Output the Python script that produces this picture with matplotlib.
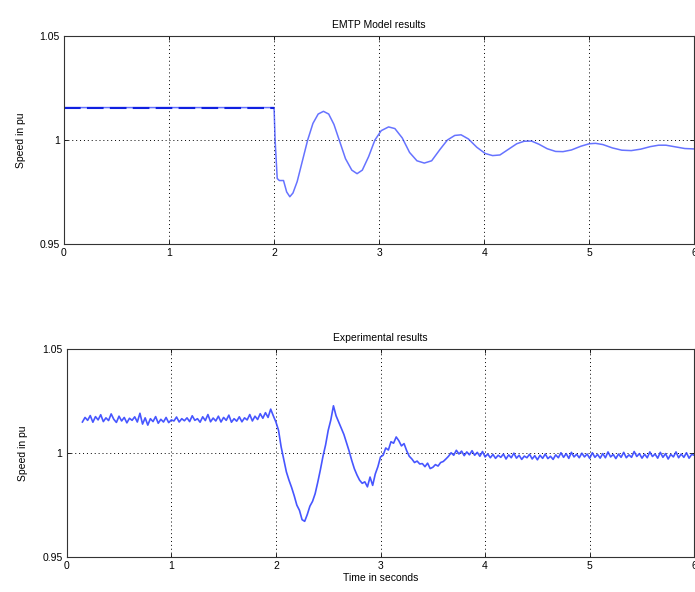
import numpy as np
import matplotlib
matplotlib.use("Agg")
import matplotlib.pyplot as plt

plt.rcParams['font.family'] = ['Liberation Sans', 'DejaVu Sans']

# ---- data: EMTP model results ----
model_t = [0.0, 2.0, 2.01, 2.03, 2.05, 2.09, 2.12, 2.15, 2.18, 2.22, 2.27, 2.32, 2.37,
           2.42, 2.47, 2.52, 2.57, 2.62, 2.68, 2.74, 2.79, 2.84, 2.90, 2.96, 3.02,
           3.09, 3.15, 3.22, 3.29, 3.36, 3.43, 3.50, 3.58, 3.65, 3.72, 3.78, 3.85,
           3.93, 4.01, 4.08, 4.15, 4.23, 4.31, 4.38, 4.45, 4.52, 4.60, 4.68, 4.75,
           4.83, 4.92, 5.00, 5.06, 5.13, 5.22, 5.31, 5.40, 5.49, 5.58, 5.66, 5.73,
           5.82, 5.91, 6.0]
model_v = [1.0156, 1.0156, 1.0000, 0.9815, 0.9805, 0.9805, 0.9750, 0.9727, 0.9745,
           0.9800, 0.9900, 1.0000, 1.0080, 1.0125, 1.0138, 1.0125, 1.0075, 1.0000,
           0.9910, 0.9855, 0.9838, 0.9855, 0.9920, 1.0000, 1.0045, 1.0063, 1.0055,
           1.0010, 0.9940, 0.9900, 0.9889, 0.9900, 0.9955, 1.0000, 1.0022, 1.0025,
           1.0005, 0.9965, 0.9935, 0.9925, 0.9928, 0.9955, 0.9982, 0.9994, 0.9995,
           0.9980, 0.9958, 0.9945, 0.9944, 0.9952, 0.9970, 0.9982, 0.9984, 0.9978,
           0.9962, 0.9951, 0.9949, 0.9956, 0.9968, 0.9975, 0.9975, 0.9967, 0.9959,
           0.9957]

# ---- data: experimental results (sampled every 0.025 s from 0.15 s to 6.0 s) ----
exp_t_start = 0.15
exp_t_end = 6.0
exp_v = [
    1.0150, 1.0172, 1.0158, 1.0181, 1.0149, 1.0176, 1.0160, 1.0185, 1.0152, 1.0170,
    1.0157, 1.0189, 1.0163, 1.0148, 1.0178, 1.0155, 1.0172, 1.0146, 1.0168, 1.0158,
    1.0175, 1.0150, 1.0192, 1.0140, 1.0170, 1.0135, 1.0166, 1.0152, 1.0176, 1.0144,
    1.0163, 1.0150, 1.0172, 1.0147, 1.0160, 1.0155, 1.0174, 1.0150, 1.0166, 1.0156,
    1.0170, 1.0152, 1.0180, 1.0158, 1.0166, 1.0149, 1.0175, 1.0157, 1.0186, 1.0151,
    1.0169, 1.0155, 1.0178, 1.0150, 1.0172, 1.0158, 1.0183, 1.0149, 1.0166, 1.0154,
    1.0175, 1.0151, 1.0170, 1.0160, 1.0186, 1.0155, 1.0178, 1.0162, 1.0190, 1.0168,
    1.0195, 1.0172, 1.0212, 1.0180, 1.0150, 1.0110, 1.0030, 0.9970, 0.9910, 0.9870,
    0.9835, 0.9795, 0.9750, 0.9725, 0.9680, 0.9672, 0.9705, 0.9745, 0.9768, 0.9805,
    0.9860, 0.9920, 0.9985, 1.0040, 1.0110, 1.0160, 1.0228, 1.0180, 1.0150, 1.0120,
    1.0090, 1.0050, 1.0010, 0.9965, 0.9925, 0.9895, 0.9870, 0.9855, 0.9862, 0.9838,
    0.9885, 0.9845, 0.9900, 0.9935, 0.9982, 0.9990, 1.0025, 1.0015, 1.0055, 1.0048,
    1.0078, 1.0060, 1.0035, 1.0046, 1.0012, 0.9985, 0.9972, 0.9955, 0.9962, 0.9948,
    0.9950, 0.9935, 0.9952, 0.9926, 0.9932, 0.9945, 0.9938, 0.9955, 0.9960, 0.9972,
    0.9985, 1.0002, 0.9990, 1.0014, 0.9996, 1.0010, 0.9988, 1.0006, 0.9992, 1.0012,
    0.9990, 1.0004, 0.9985, 1.0008, 0.9982, 0.9996, 0.9978, 0.9994, 0.9975, 0.9990,
    0.9980, 0.9996, 0.9972, 0.9992, 0.9978, 1.0000, 0.9976, 0.9990, 0.9970, 0.9986,
    0.9978, 0.9995, 0.9972, 0.9988, 0.9968, 0.9990, 0.9975, 0.9996, 0.9974, 0.9985,
    0.9970, 0.9992, 0.9978, 1.0002, 0.9980, 0.9998, 0.9975, 1.0004, 0.9982, 0.9995,
    0.9978, 1.0000, 0.9982, 0.9996, 0.9975, 1.0002, 0.9980, 0.9994, 0.9976, 0.9998,
    0.9978, 1.0006, 0.9982, 0.9994, 0.9974, 0.9996, 0.9980, 1.0004, 0.9978, 0.9992,
    0.9980, 1.0008, 0.9984, 0.9998, 0.9976, 0.9995, 0.9978, 1.0006, 0.9984, 0.9996,
    0.9976, 1.0004, 0.9980, 0.9998, 0.9972, 0.9994, 0.9982, 1.0006, 0.9978, 0.9996,
    0.9980, 1.0002, 0.9976, 0.9994, 0.9990,
]
exp_t = np.linspace(exp_t_start, exp_t_end, len(exp_v))

x_ticks = [0, 1, 2, 3, 4, 5, 6]
y_ticks = [0.95, 1.0, 1.05]
y_ticklabels = ['0.95', '1', '1.05']

titles = ['EMTP Model results', 'Experimental results']
ylabel = 'Speed in pu'
xlabel = 'Time in seconds'

LINE = '#3344ff'

fig = plt.figure(figsize=(6.95, 5.92), dpi=100)
ax1 = fig.add_axes([0.092, 0.588, 0.907, 0.351])
ax2 = fig.add_axes([0.096, 0.059, 0.903, 0.351])


def style(ax, title):
    ax.set_xlim(0, 6)
    ax.set_ylim(0.95, 1.05)
    ax.set_xticks(x_ticks)
    ax.set_xticklabels([str(v) for v in x_ticks])
    ax.set_yticks(y_ticks)
    ax.set_yticklabels(y_ticklabels)
    ax.tick_params(direction='in', length=3, width=0.6, labelsize=7.5, pad=3,
                   top=True, right=True)
    ax.grid(True, color='black', linestyle=(0, (1, 3)), linewidth=0.7)
    for s in ax.spines.values():
        s.set_linewidth(0.8)
        s.set_color('#333333')
    ax.set_title(title, fontsize=7.5, pad=6)
    ax.set_ylabel(ylabel, fontsize=7.5, labelpad=10)


ax1.plot(model_t, model_v, color=LINE, linewidth=1.1, alpha=0.75)
ax1.plot(model_t[:2], model_v[:2], color='#1020e0', linewidth=1.5, dashes=(8, 3))
style(ax1, titles[0])

ax2.plot(exp_t, exp_v, color=LINE, linewidth=1.2, alpha=0.9)
style(ax2, titles[1])
ax2.set_xlabel(xlabel, fontsize=7.5, labelpad=1)

fig.savefig('out.png', dpi=100)
